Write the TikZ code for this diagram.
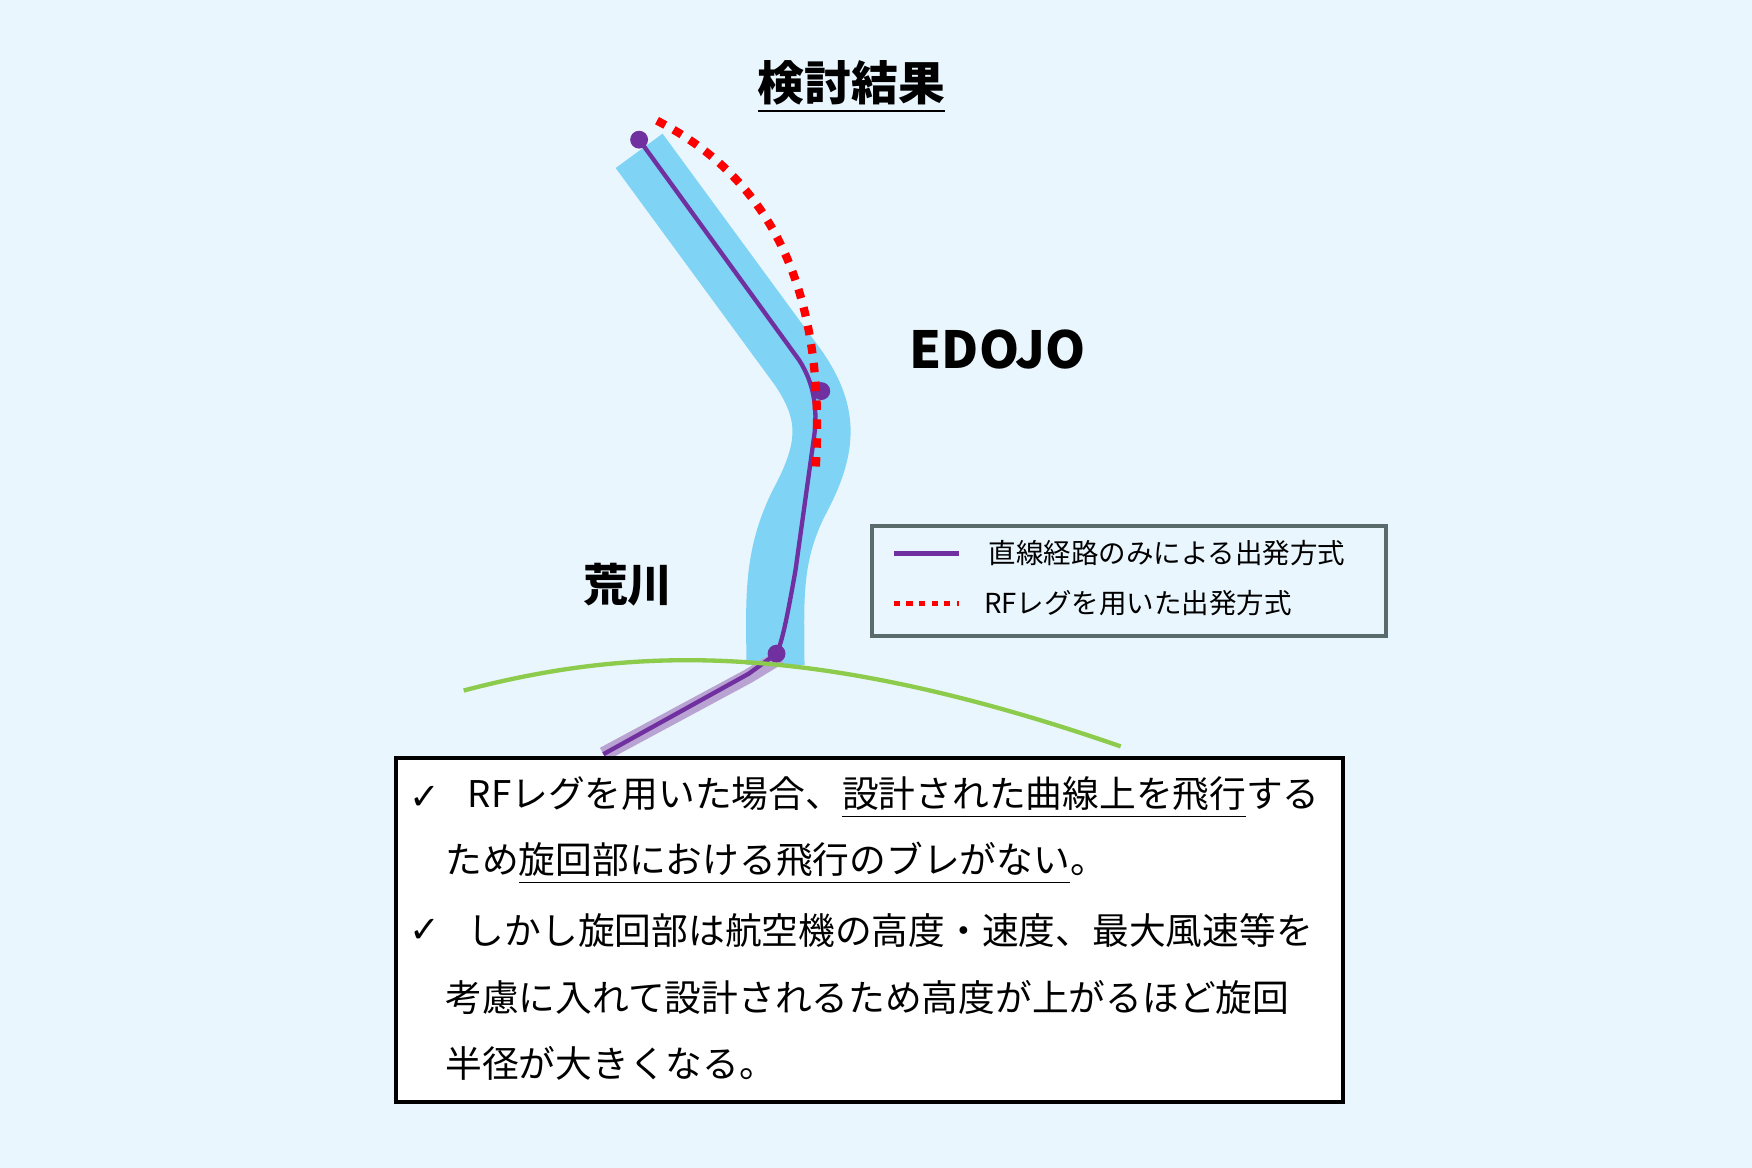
\documentclass[tikz,border=0pt]{standalone}
\usepackage{fontspec}
\setmainfont{Noto Sans CJK JP}
\newfontfamily\djv{DejaVu Sans}
\begin{document}
\begin{tikzpicture}[x=0.01cm,y=-0.01cm]
\definecolor{bg}{HTML}{EAF6FD}
\definecolor{band}{HTML}{7FD3F5}
\definecolor{pur}{HTML}{7030A0}
\definecolor{lav}{HTML}{B9A3D3}
\definecolor{grn}{HTML}{8CCB4B}
\definecolor{lgb}{HTML}{5A6B6B}
\tikzset{
 bodytxt/.style={anchor=west,inner sep=0pt,font=\fontsize{9.35}{10}\selectfont},
 legtxt/.style={anchor=west,inner sep=0pt,font=\fontsize{7}{8}\selectfont},
 dot/.style={circle,fill=pur,inner sep=0pt,minimum size=0.16cm},
 reddot/.style={red,line width=2.1pt,dash pattern=on 2.4pt off 2.4pt},
 purline/.style={pur,line width=1.1pt}
}
\fill[bg] (0,0) rectangle (1568,1045);
\useasboundingbox (0,0) rectangle (1568,1045);
\node[font=\fontsize{11.9}{13}\bfseries\selectfont] (title) at (762,78) {\underline{検討結果}};
% band
\draw[band,line width=0.52cm,line join=round] (572,135) -- (715,330) .. controls (742,370) and (742,400) .. (715,450) .. controls (690,500) and (694,540) .. (694,595);
% lavender lower
\draw[lav,line width=0.13cm] (698,588) -- (670,605) -- (540,675);
% purple
\coordinate (p0) at (572,125);
\coordinate (p1) at (735,350);
\coordinate (p2) at (695,585);
\draw[purline] (p0) -- (715,322) .. controls (730,345) and (732,370) .. (728,395) -- (712,510) .. controls (705,550) and (700,575) .. (p2) -- (670,603) -- (540,675);
\node[dot] (d0) at (p0) {};
\node[dot] (d1) at (p1) {};
\node[dot] (d2) at (p2) {};
% red dotted
\draw[reddot] (588,108) .. controls (690,160) and (740,260) .. (730,420);
% green
\draw[grn,line width=1.1pt] (415,618) .. controls (560,580) and (720,570) .. (1003,668);
\node[font=\fontsize{13}{14}\bfseries\selectfont] (edojo) at (893,313) {EDOJO};
\node[font=\fontsize{11.4}{13}\bfseries\selectfont] (ara) at (562,523) {荒川};
% legend
\node[draw=lgb,line width=1pt,fill=bg,minimum width=4.59cm,minimum height=0.98cm,anchor=north west] (leg) at (779,469) {};
\coordinate (la) at (800,495); \coordinate (lb) at (858,495);
\coordinate (lc) at (800,540); \coordinate (ld) at (858,540);
\draw[purline,line width=1.3pt] (la) -- (lb);
\draw[reddot,line width=1.3pt,dash pattern=on 1.6pt off 1.6pt] (lc) -- (ld);
\node[legtxt] (l1) at (884,495) {直線経路のみによる出発方式};
\node[legtxt] (l2) at (880,540) {RFレグを用いた出発方式};
% text box
\node[draw=black,line width=1pt,fill=white,minimum width=8.47cm,minimum height=3.07cm,anchor=north west] (box) at (353,677) {};
\node[bodytxt] (c1) at (366,714) {\djv ✓};
\node[bodytxt] (t1) at (418,714) {RFレグを用いた場合、\underline{設計された曲線上を飛行}する};
\node[bodytxt] (t2) at (398,773) {ため\underline{旋回部における飛行のブレがない}。};
\node[bodytxt] (c2) at (366,833) {\djv ✓};
\node[bodytxt] (t3) at (418,833) {しかし旋回部は航空機の高度・速度、最大風速等を};
\node[bodytxt] (t4) at (398,893) {考慮に入れて設計されるため高度が上がるほど旋回};
\node[bodytxt] (t5) at (398,952) {半径が大きくなる。};
\end{tikzpicture}
\end{document}
